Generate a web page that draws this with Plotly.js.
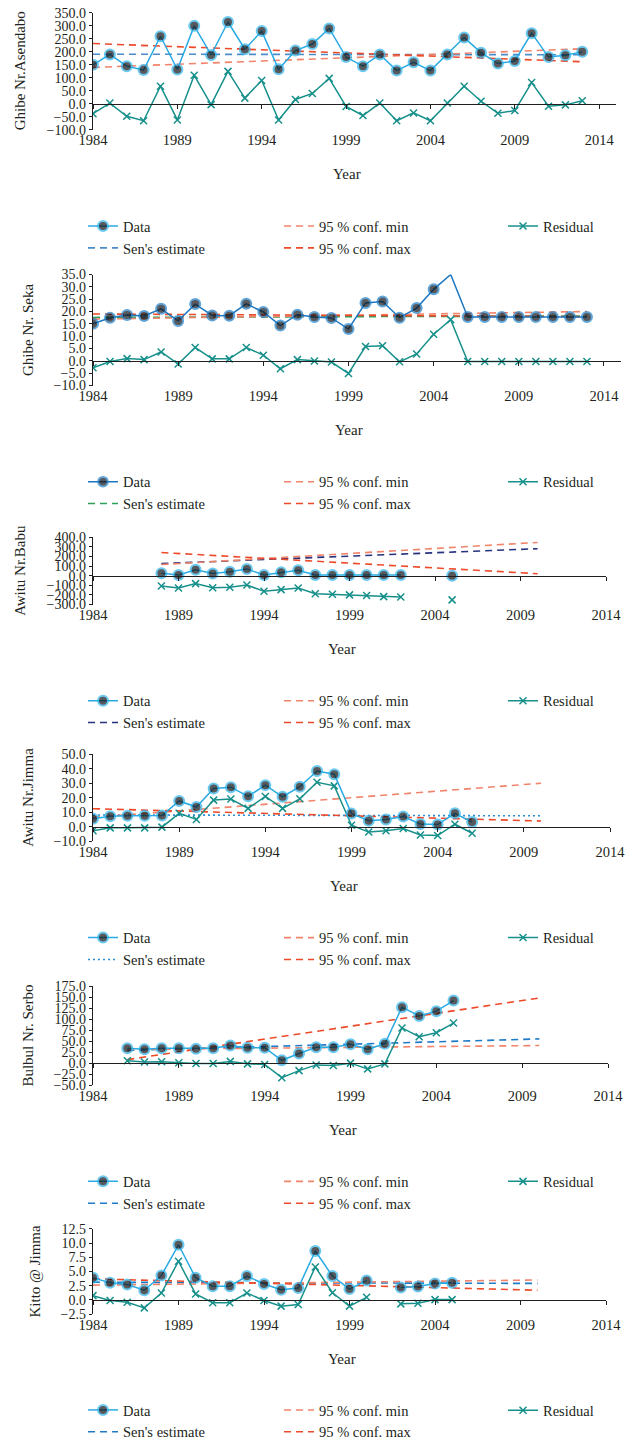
<!DOCTYPE html>
<html>
<head>
<meta charset="utf-8">
<script src="https://cdn.plot.ly/plotly-3.0.1.min.js"></script>
<style>html,body{margin:0;padding:0;background:#fff;}#chart{width:631px;height:1448px;}</style>
</head>
<body>
<div id="chart"></div>
<script>
// ---------------- DATA ----------------
const xTickVals = [1984, 1989, 1994, 1999, 2004, 2009, 2014];
const xTickText = ["1984", "1989", "1994", "1999", "2004", "2009", "2014"];
const legendNames = ["Data", "Sen's estimate", "95 % conf. min", "95 % conf. max", "Residual"];

// Panel 1: Ghibe Nr.Asendabo
const asendaboYears = [1984,1985,1986,1987,1988,1989,1990,1991,1992,1993,1994,1995,1996,1997,1998,1999,2000,2001,2002,2003,2004,2005,2006,2007,2008,2009,2010,2011,2012,2013];
const asendaboData = [150,190,145,130,260,132,300,188,315,210,280,133,205,230,290,180,145,190,128,160,128,190,255,197,155,165,272,180,187,200];
const asendaboResidual = [-38,3,-48,-65,68,-62,110,-3,125,22,90,-62,17,40,98,-10,-45,3,-65,-35,-65,3,68,10,-36,-26,82,-9,-4,12];
const asendaboTrendYears = [1984, 2013];
const asendaboSen = [191, 189];
const asendaboConfMin = [140, 212];
const asendaboConfMax = [232, 162];

// Panel 2: Ghibe Nr. Seka
const sekaYears = [1984,1985,1986,1987,1988,1989,1990,1991,1992,1993,1994,1995,1996,1997,1998,1999,2000,2001,2002,2003,2004,2005,2006,2007,2008,2009,2010,2011,2012,2013];
const sekaData = [15.0,17.5,18.6,18.2,21.1,16.2,23.0,18.4,18.3,23.1,19.8,14.3,18.7,17.8,17.4,12.9,23.5,24.1,17.5,21.4,29.0,35.0,17.8,17.8,17.8,17.8,17.8,17.8,17.8,17.8];
const sekaResidual = [-2.8,-0.3,0.9,0.5,3.6,-1.3,5.4,0.8,0.8,5.4,2.3,-3.2,0.5,-0.1,-0.5,-5.1,5.8,6.1,-0.4,2.8,10.8,16.7,-0.3,-0.3,-0.3,-0.3,-0.3,-0.3,-0.3,-0.3];
const sekaNoMarkerYears = [2005];
const sekaTrendYears = [1984, 2013];
const sekaSen = [17.6, 18.2];
const sekaConfMin = [16.9, 20.0];
const sekaConfMax = [19.0, 17.9];

// Panel 3: Awitu Nr.Babu
const babuYears = [1988,1989,1990,1991,1992,1993,1994,1995,1996,1997,1998,1999,2000,2001,2002,2003,2004,2005];
const babuData = [25,6,62,22,40,70,6,34,55,6,6,6,6,6,6,null,null,0];
const babuResidual = [-108,-129,-83,-126,-120,-98,-163,-145,-129,-188,-194,-200,-206,-218,-222,null,null,-252];
const babuTrendYears = [1988, 2010];
const babuSen = [125, 280];
const babuConfMin = [115, 345];
const babuConfMax = [240, 20];

// Panel 4: Awitu Nr.Jimma
const jimmaYears = [1984,1985,1986,1987,1988,1989,1990,1991,1992,1993,1994,1995,1996,1997,1998,1999,2000,2001,2002,2003,2004,2005,2006];
const jimmaData = [5.5,7.3,7.6,7.6,7.8,17.8,13.6,26.4,27.3,21.0,28.7,20.7,27.6,38.4,36.2,9.1,4.2,5.1,7.1,2.0,1.6,9.3,3.3];
const jimmaResidual = [-2.7,-0.7,-0.7,-0.7,-0.2,9.3,5.1,18.4,19.1,12.7,20.9,12.7,19.3,30.7,28.2,1.1,-3.6,-2.7,-1.1,-5.6,-6.0,1.8,-4.4];
const jimmaTrendYears = [1984, 2010];
const jimmaSen = [8.2, 7.6];
const jimmaConfMin = [6.5, 30.0];
const jimmaConfMax = [12.5, 4.0];

// Panel 5: Bulbul Nr. Serbo
const serboYears = [1986,1987,1988,1989,1990,1991,1992,1993,1994,1995,1996,1997,1998,1999,2000,2001,2002,2003,2004,2005];
const serboData = [34,31.5,34,34,32.5,34,40,35,35,6.5,22,36,36,43,31.5,44,127,107,118,142];
const serboResidual = [5.5,2.4,3.1,0.8,-0.8,-0.8,4,-1.6,-3.1,-33,-17,-4,-5.5,0,-13,-1.6,80,60,69,91];
const serboTrendYears = [1986, 2010];
const serboSen = [29, 55];
const serboConfMin = [31, 40];
const serboConfMax = [8, 148];

// Panel 6: Kitto @ Jimma
const kittoYears = [1984,1985,1986,1987,1988,1989,1990,1991,1992,1993,1994,1995,1996,1997,1998,1999,2000,2001,2002,2003,2004,2005];
const kittoData = [3.9,3.0,2.7,1.7,4.3,9.7,3.9,2.4,2.4,4.2,2.8,1.8,2.1,8.6,4.2,1.9,3.4,null,2.2,2.35,2.9,3.0];
const kittoResidual = [0.75,-0.1,-0.4,-1.4,1.2,6.8,1.05,-0.5,-0.5,1.2,-0.1,-1.1,-0.8,5.8,1.25,-1.1,0.45,null,-0.7,-0.6,0.05,0.05];
const kittoTrendYears = [1984, 2010];
const kittoSen = [3.1, 2.9];
const kittoConfMin = [2.6, 3.5];
const kittoConfMax = [3.7, 1.7];

// ---------------- LAYOUT / STYLE ----------------
const W = 631, H = 1448;
const px = v => v / W;
const py = v => 1 - v / H;
const FONT = "'Liberation Serif', 'DejaVu Serif', serif";
const TXT = '#231f20';

const panels = [
  {title: 'Ghibe Nr.Asendabo', years: asendaboYears, data: asendaboData, resid: asendaboResidual, ty: asendaboTrendYears, sen: asendaboSen, cmin: asendaboConfMin, cmax: asendaboConfMax,
   yr: [-100, 350], dy: 50, xr: [1984, 2015], box: [93, 616, 13, 131], ytx: 20, senColor: '#4a8cc9', senDash: '7px,5px', dataLine: '#2aaae2', ring: '#2fb4ec', noMarker: []},
  {title: 'Ghibe Nr. Seka', years: sekaYears, data: sekaData, resid: sekaResidual, ty: sekaTrendYears, sen: sekaSen, cmin: sekaConfMin, cmax: sekaConfMax,
   yr: [-10, 35], dy: 5, xr: [1984, 2015], box: [93, 621, 277, 389], ytx: 28, senColor: '#2ea05a', senDash: '7px,5px', dataLine: '#1c77c0', ring: '#1f7fc8', noMarker: sekaNoMarkerYears},
  {title: 'Awitu Nr.Babu', years: babuYears, data: babuData, resid: babuResidual, ty: babuTrendYears, sen: babuSen, cmin: babuConfMin, cmax: babuConfMax,
   yr: [-300, 400], dy: 100, xr: [1984, 2014], box: [93, 606, 542, 610], ytx: 20, senColor: '#26327e', senDash: '7px,5px', dataLine: '#2aaae2', ring: '#2fb4ec', noMarker: []},
  {title: 'Awitu Nr.Jimma', years: jimmaYears, data: jimmaData, resid: jimmaResidual, ty: jimmaTrendYears, sen: jimmaSen, cmin: jimmaConfMin, cmax: jimmaConfMax,
   yr: [-10, 50], dy: 10, xr: [1984, 2014], box: [93, 610, 761, 849], ytx: 28, senColor: '#2a8fd6', senDash: '2px,3px', dataLine: '#2aaae2', ring: '#2fb4ec', noMarker: []},
  {title: 'Bulbul Nr. Serbo', years: serboYears, data: serboData, resid: serboResidual, ty: serboTrendYears, sen: serboSen, cmin: serboConfMin, cmax: serboConfMax,
   yr: [-50, 175], dy: 25, xr: [1984, 2014], box: [93, 608, 995, 1095], ytx: 28, senColor: '#1f7ac8', senDash: '7px,5px', dataLine: '#2aaae2', ring: '#2fb4ec', noMarker: []},
  {title: 'Kitto @ Jimma', years: kittoYears, data: kittoData, resid: kittoResidual, ty: kittoTrendYears, sen: kittoSen, cmin: kittoConfMin, cmax: kittoConfMax,
   yr: [-2.5, 12.5], dy: 2.5, xr: [1984, 2014], box: [93, 606, 1240, 1326], ytx: 35, senColor: '#1f7ac8', senDash: '7px,5px', dataLine: '#2aaae2', ring: '#2fb4ec', noMarker: []}
];

const CONF_MIN_COLOR = '#f2846c';
const CONF_MAX_COLOR = '#ee4a2a';
const RESID_COLOR = '#17908b';

const traces = [];
const layout = {
  width: W, height: H,
  margin: {l: 0, r: 0, t: 0, b: 0},
  paper_bgcolor: '#fff', plot_bgcolor: 'rgba(0,0,0,0)',
  font: {family: FONT, size: 14, color: TXT},
  showlegend: true,
  annotations: []
};

panels.forEach((p, i) => {
  const n = i + 1;
  const xa = 'x' + (n === 1 ? '' : n);
  const ya = 'y' + (n === 1 ? '' : n);
  const xz = 'x' + (n + 6);
  const [l, r, t, b] = p.box;
  const lg = k => { const id = i * 3 + k; return id === 1 ? 'legend' : 'legend' + id; };

  // dashed trend lines
  traces.push({x: p.ty, y: p.sen, xaxis: xa, yaxis: ya, mode: 'lines', name: legendNames[1], legend: lg(1), legendrank: 2,
    line: {color: p.senColor, width: 1.6, dash: p.senDash}, hoverinfo: 'skip'});
  traces.push({x: p.ty, y: p.cmin, xaxis: xa, yaxis: ya, mode: 'lines', name: legendNames[2], legend: lg(2), legendrank: 1,
    line: {color: CONF_MIN_COLOR, width: 1.6, dash: '7px,5px'}, hoverinfo: 'skip'});
  traces.push({x: p.ty, y: p.cmax, xaxis: xa, yaxis: ya, mode: 'lines', name: legendNames[3], legend: lg(2), legendrank: 2,
    line: {color: CONF_MAX_COLOR, width: 1.6, dash: '7px,5px'}, hoverinfo: 'skip'});
  // residual
  traces.push({x: p.years, y: p.resid, xaxis: xa, yaxis: ya, mode: 'lines+markers', name: legendNames[4], legend: lg(3), legendrank: 1,
    connectgaps: false,
    line: {color: RESID_COLOR, width: 1.5},
    marker: {symbol: 'x-thin', size: 7, color: RESID_COLOR, line: {color: RESID_COLOR, width: 1.5}}});
  // data
  const sizes = p.years.map(yv => p.noMarker.indexOf(yv) >= 0 ? 0 : 10);
  traces.push({x: p.years, y: p.data, xaxis: xa, yaxis: ya, mode: 'lines+markers', name: legendNames[0], legend: lg(1), legendrank: 1,
    connectgaps: false,
    line: {color: p.dataLine, width: 1.5},
    marker: {size: sizes, color: '#111418', line: {color: p.ring, width: 2}}});
  // dummy trace for the zero-line axis
  traces.push({x: [null], y: [null], xaxis: xz, yaxis: ya, mode: 'markers', showlegend: false, hoverinfo: 'skip'});

  const dom = [px(l), px(r)];
  const ydom = [py(b), py(t)];
  layout['xaxis' + (n === 1 ? '' : n)] = {
    domain: dom, range: p.xr, anchor: ya, tickmode: 'array', tickvals: xTickVals, ticktext: xTickText,
    showline: false, ticks: '', showgrid: false, zeroline: false,
    tickfont: {family: FONT, size: 14.5, color: TXT}, fixedrange: true
  };
  layout['yaxis' + (n === 1 ? '' : n)] = {
    domain: ydom, range: p.yr, anchor: xa, tickmode: 'linear', tick0: p.yr[0], dtick: p.dy, tickformat: '.1f',
    showline: true, linecolor: TXT, linewidth: 1.2, ticks: 'outside', ticklen: 3, tickcolor: TXT, tickwidth: 1,
    showgrid: false, zeroline: false, tickfont: {family: FONT, size: 14, color: TXT}, fixedrange: true
  };
  const zeroFrac = ydom[0] + (0 - p.yr[0]) / (p.yr[1] - p.yr[0]) * (ydom[1] - ydom[0]);
  layout['xaxis' + (n + 6)] = {
    overlaying: xa, anchor: 'free', position: zeroFrac, range: p.xr, tickmode: 'array', tickvals: xTickVals,
    showticklabels: false, showline: true, linecolor: TXT, linewidth: 1.2, ticks: 'outside', ticklen: 4, tickcolor: TXT,
    showgrid: false, zeroline: false, fixedrange: true
  };

  // axis titles
  layout.annotations.push({text: p.title, xref: 'paper', yref: 'paper', x: px(p.ytx), y: py((t + b) / 2), textangle: -90,
    showarrow: false, xanchor: 'center', yanchor: 'middle', font: {family: FONT, size: 15, color: TXT}});
  layout.annotations.push({text: 'Year', xref: 'paper', yref: 'paper', x: px((l + r) / 2 - 8), y: py(b + 45),
    showarrow: false, xanchor: 'center', yanchor: 'middle', font: {family: FONT, size: 15, color: TXT}});

  // legends: three columns
  const legY = py(b + 81);
  const cols = [83, 279, 503];
  for (let k = 1; k <= 3; k++) {
    layout[lg(k)] = {x: px(cols[k - 1]), y: legY, xanchor: 'left', yanchor: 'top', orientation: 'v',
      bgcolor: 'rgba(0,0,0,0)', borderwidth: 0, font: {family: FONT, size: 14.5, color: TXT}, traceorder: 'normal'};
  }
});

Plotly.newPlot('chart', traces, layout, {staticPlot: true, displayModeBar: false});
</script>
</body>
</html>
